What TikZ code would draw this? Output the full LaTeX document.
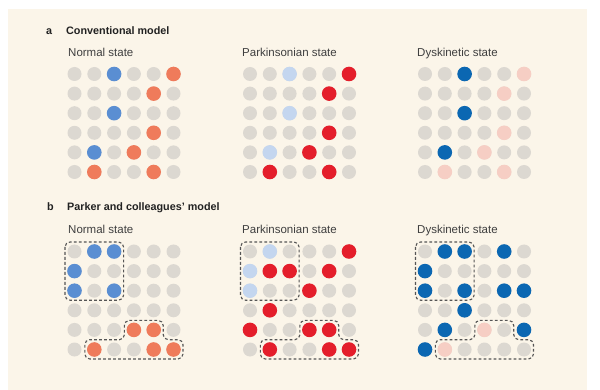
\documentclass[tikz,border=0pt]{standalone}
\usepackage{fontspec}
\setmainfont{Liberation Sans}
\definecolor{bg}{HTML}{FBF5E9}
\definecolor{dotgrey}{HTML}{DCD8D1}
\definecolor{nblue}{HTML}{5A8ED2}
\definecolor{norange}{HTML}{EF7B5B}
\definecolor{pblue}{HTML}{C4D6EF}
\definecolor{pred}{HTML}{E41E2B}
\definecolor{dblue}{HTML}{0B67B2}
\definecolor{dpink}{HTML}{F6CEC4}
\definecolor{txt}{HTML}{3F3F3F}
\definecolor{head}{HTML}{222222}
\definecolor{dashc}{HTML}{555555}
\newcommand\dotgrid[2]{%
  \foreach \i in {0,...,5}{\foreach \j in {0,...,5}{%
    \fill[dotgrey] ({#1+\i*19.8},{#2+\j*19.6}) circle (7pt);}}}
\newcommand\colordots[3]{%
  \foreach \c/\r/\k in {#3}{%
    \fill[\k] ({#1+(\c-1)*19.8},{#2+(\r-1)*19.6}) circle (7.3pt);}}
\newcommand\dashA[2]{%
  \draw[dashbox] ({#1-9.5},{#2-9.5}) rectangle ({#1+2*19.8+9.5},{#2+2*19.6+9.5});}
\newcommand\dashB[2]{%
  \draw[dashbox] ({#1+49.9},{#2+68.9}) -- ({#1+88.7},{#2+68.9}) -- ({#1+88.7},{#2+88.2})
   -- ({#1+108.5},{#2+88.2}) -- ({#1+108.5},{#2+107.5}) -- ({#1+10.3},{#2+107.5})
   -- ({#1+10.3},{#2+88.2}) -- ({#1+49.9},{#2+88.2}) -- cycle;}
\begin{document}
\begin{tikzpicture}[x=1pt,y=-1pt,
  dashbox/.style={draw=dashc,line width=1.1pt,dash pattern=on 2.8pt off 2.2pt,rounded corners=5pt},
  headtxt/.style={anchor=base west,inner sep=0pt,text=head,font=\fontsize{10.8}{12}\selectfont\bfseries},
  labtxt/.style={anchor=base west,inner sep=0pt,text=txt,font=\fontsize{11.5}{13}\selectfont}]
\useasboundingbox (0,0) rectangle (600,390);
\fill[white] (0,0) rectangle (600,390);
\fill[bg] (8,9) rectangle (587,390);
% headers
\node[headtxt] (la) at (46,35) {a};
\node[headtxt] (ta) at (66,35) {Conventional model};
\node[headtxt] (lb) at (47,211) {b};
\node[headtxt] (tb) at (67,211) {Parker and colleagues’ model};
% labels a
\node[labtxt] (an) at (68,57) {Normal state};
\node[labtxt] (ap) at (242,57) {Parkinsonian state};
\node[labtxt] (ad) at (417,57) {Dyskinetic state};
% labels b
\node[labtxt] (bn) at (68,234) {Normal state};
\node[labtxt] (bp) at (242,234) {Parkinsonian state};
\node[labtxt] (bd) at (417,234) {Dyskinetic state};
% part a grids
\dotgrid{74.5}{74}
\dotgrid{250}{74}
\dotgrid{425}{74}
\colordots{74.5}{74}{3/1/nblue,6/1/norange,5/2/norange,3/3/nblue,5/4/norange,2/5/nblue,4/5/norange,2/6/norange,5/6/norange}
\colordots{250}{74}{3/1/pblue,6/1/pred,5/2/pred,3/3/pblue,5/4/pred,2/5/pblue,4/5/pred,2/6/pred,5/6/pred}
\colordots{425}{74}{3/1/dblue,6/1/dpink,5/2/dpink,3/3/dblue,5/4/dpink,2/5/dblue,4/5/dpink,2/6/dpink,5/6/dpink}
% part b grids
\dotgrid{74.5}{251.5}
\dotgrid{250}{251.5}
\dotgrid{425}{251.5}
\colordots{74.5}{251.5}{2/1/nblue,3/1/nblue,1/2/nblue,1/3/nblue,3/3/nblue,4/5/norange,5/5/norange,2/6/norange,5/6/norange,6/6/norange}
\colordots{250}{251.5}{2/1/pblue,6/1/pred,1/2/pblue,2/2/pred,3/2/pred,5/2/pred,1/3/pblue,4/3/pred,2/4/pred,1/5/pred,4/5/pred,5/5/pred,2/6/pred,5/6/pred,6/6/pred}
\colordots{425}{251.5}{2/1/dblue,3/1/dblue,5/1/dblue,1/2/dblue,1/3/dblue,3/3/dblue,5/3/dblue,6/3/dblue,3/4/dblue,2/5/dblue,4/5/dpink,6/5/dblue,1/6/dblue,2/6/dpink}
% dashed groups
\dashA{74.5}{251.5}
\dashA{250}{251.5}
\dashA{425}{251.5}
\dashB{74.5}{251.5}
\dashB{250}{251.5}
\dashB{425}{251.5}
\end{tikzpicture}
\end{document}
